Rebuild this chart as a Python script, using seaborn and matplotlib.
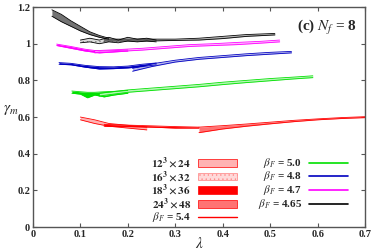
import numpy as np
import seaborn as sns
import matplotlib
matplotlib.use("Agg")
import matplotlib.pyplot as plt
from matplotlib.patches import Rectangle
from matplotlib.lines import Line2D
from matplotlib.colors import to_rgb

# ---- data ----
# beta_F = 4.65 (black)
k_lam1 = [0.04, 0.06, 0.08, 0.10, 0.12, 0.14, 0.16]
k_lo1 = [1.15, 1.12, 1.095, 1.07, 1.05, 1.035, 1.025]
k_hi1 = [1.185, 1.16, 1.125, 1.095, 1.065, 1.045, 1.03]
k_lam2 = [0.10, 0.12, 0.14, 0.16, 0.18, 0.20, 0.22, 0.24, 0.26]
k_lo2 = [1.005, 1.01, 1.0, 1.01, 1.005, 1.015, 1.01, 1.015, 1.01]
k_hi2 = [1.02, 1.03, 1.02, 1.035, 1.02, 1.035, 1.025, 1.03, 1.02]
k_lam3 = [0.15, 0.20, 0.25, 0.30, 0.35, 0.40, 0.45, 0.51]
k_lo3 = [1.015, 1.015, 1.015, 1.018, 1.02, 1.028, 1.04, 1.048]
k_hi3 = [1.025, 1.025, 1.025, 1.025, 1.03, 1.04, 1.05, 1.056]

# beta_F = 4.7 (magenta)
m_lam1 = [0.05, 0.08, 0.11, 0.14, 0.17, 0.20]
m_lo1 = [0.99, 0.975, 0.96, 0.95, 0.955, 0.96]
m_hi1 = [0.998, 0.985, 0.97, 0.96, 0.962, 0.966]
m_lam2 = [0.13, 0.18, 0.23, 0.28, 0.33, 0.38, 0.43, 0.48, 0.52]
m_lo2 = [0.95, 0.958, 0.965, 0.975, 0.985, 0.99, 0.995, 1.003, 1.01]
m_hi2 = [0.962, 0.968, 0.975, 0.985, 0.995, 1.0, 1.007, 1.013, 1.02]

# beta_F = 4.8 (blue)
b_lam1 = [0.055, 0.08, 0.11, 0.14, 0.17, 0.20, 0.23, 0.26]
b_lo1 = [0.888, 0.885, 0.872, 0.862, 0.864, 0.868, 0.875, 0.885]
b_hi1 = [0.897, 0.893, 0.882, 0.875, 0.874, 0.878, 0.888, 0.895]
b_lam2 = [0.21, 0.25, 0.30, 0.35, 0.40, 0.45, 0.50, 0.545]
b_lo2 = [0.85, 0.875, 0.90, 0.915, 0.925, 0.935, 0.943, 0.95]
b_hi2 = [0.865, 0.89, 0.91, 0.925, 0.935, 0.945, 0.953, 0.958]

# beta_F = 5.0 (green)
g_lam1 = [0.082, 0.10, 0.115, 0.13, 0.15, 0.17, 0.20]
g_lo1 = [0.73, 0.725, 0.705, 0.72, 0.71, 0.72, 0.73]
g_hi1 = [0.742, 0.738, 0.735, 0.735, 0.738, 0.74, 0.745]
g_lam2 = [0.14, 0.20, 0.25, 0.30, 0.35, 0.40, 0.45, 0.50, 0.55, 0.59]
g_lo2 = [0.715, 0.735, 0.745, 0.755, 0.765, 0.777, 0.788, 0.798, 0.808, 0.815]
g_hi2 = [0.73, 0.748, 0.758, 0.768, 0.778, 0.79, 0.80, 0.81, 0.818, 0.825]

# beta_F = 5.4 (red)
r_lam1 = [0.10, 0.13, 0.16, 0.20, 0.24]
r_lo1 = [0.585, 0.565, 0.55, 0.54, 0.53]
r_hi1 = [0.60, 0.585, 0.565, 0.555, 0.545]
r_lam2 = [0.15, 0.20, 0.25, 0.30, 0.35]
r_lo2 = [0.55, 0.548, 0.545, 0.54, 0.54]
r_hi2 = [0.56, 0.556, 0.552, 0.548, 0.545]
r_lam3 = [0.35, 0.40, 0.45, 0.50, 0.55, 0.60, 0.65, 0.70]
r_lo3 = [0.515, 0.535, 0.55, 0.563, 0.575, 0.585, 0.592, 0.597]
r_hi3 = [0.545, 0.553, 0.562, 0.572, 0.582, 0.59, 0.597, 0.602]

volumes = ["$\\mathbf{12^3\\times24}$", "$\\mathbf{16^3\\times32}$",
           "$\\mathbf{18^3\\times36}$", "$\\mathbf{24^3\\times48}$"]
betas = ["5.0", "4.8", "4.7", "4.65"]
beta_colors = ["#00e000", "#0000c0", "#ff00ff", "#000000"]
red = "#ff0000"

# (colour, lam, lo, hi, volume index)
bands = [
    ("#000000", k_lam1, k_lo1, k_hi1, 3),
    ("#000000", k_lam2, k_lo2, k_hi2, 1),
    ("#000000", k_lam3, k_lo3, k_hi3, 0),
    ("#ff00ff", m_lam1, m_lo1, m_hi1, 2),
    ("#ff00ff", m_lam2, m_lo2, m_hi2, 0),
    ("#0000c0", b_lam1, b_lo1, b_hi1, 2),
    ("#0000c0", b_lam2, b_lo2, b_hi2, 0),
    ("#00e000", g_lam1, g_lo1, g_hi1, 2),
    ("#00e000", g_lam2, g_lo2, g_hi2, 0),
    (red, r_lam1, r_lo1, r_hi1, 0),
    (red, r_lam2, r_lo2, r_hi2, 2),
    (red, r_lam3, r_lo3, r_hi3, 3),
]


def tint(c, w):
    # mix colour with white
    c = np.array(to_rgb(c))
    return tuple(c + (1 - c) * w)


def vol_style(c, iv):
    if iv == 0:
        return dict(facecolor=tint(c, 0.7), edgecolor=c, hatch=None)
    if iv == 1:
        return dict(facecolor=tint(c, 0.85), edgecolor=tint(c, 0.5), hatch="....")
    if iv == 2:
        return dict(facecolor=c, edgecolor=c, hatch=None)
    return dict(facecolor=tint(c, 0.45), edgecolor=c, hatch=None)


sns.set_style("ticks", {"xtick.direction": "in", "ytick.direction": "in"})
plt.rcParams["font.family"] = ["Liberation Serif", "DejaVu Serif"]
plt.rcParams["mathtext.fontset"] = "stix"
plt.rcParams["hatch.linewidth"] = 0.4

fig = plt.figure(figsize=(3.74, 2.52), dpi=100)
ax = fig.add_axes([0.088, 0.099, 0.888, 0.873])

for c, lam, lo, hi, iv in bands:
    st = vol_style(c, iv)
    ax.fill_between(lam, lo, hi, facecolor=st["facecolor"], edgecolor=st["edgecolor"],
                    hatch=st["hatch"], linewidth=0.0)
    sns.lineplot(x=lam, y=lo, ax=ax, color=c, lw=0.6, legend=False)
    sns.lineplot(x=lam, y=hi, ax=ax, color=c, lw=0.6, legend=False)

ax.set_xlim(0, 0.7)
ax.set_ylim(0, 1.2)
ax.set_xticks([0, 0.1, 0.2, 0.3, 0.4, 0.5, 0.6, 0.7])
ax.set_xticklabels(["0", "0.1", "0.2", "0.3", "0.4", "0.5", "0.6", "0.7"])
ax.set_yticks([0, 0.2, 0.4, 0.6, 0.8, 1.0, 1.2])
ax.set_yticklabels(["0", "0.2", "0.4", "0.6", "0.8", "1", "1.2"])
ax.tick_params(direction="in", top=True, right=True, length=3, width=0.8,
               labelsize=7.5, pad=2, color="#555555")
for t in ax.get_xticklabels() + ax.get_yticklabels():
    t.set_fontweight("bold")
for s in ax.spines.values():
    s.set_color("#555555")
    s.set_linewidth(1.0)

ax.set_xlabel("$\\lambda$", fontsize=11)
ax.xaxis.set_label_coords(0.5, -0.04)
ax.set_ylabel("$\\gamma_m$", fontsize=11, rotation=0)
ax.yaxis.set_label_coords(-0.065, 0.5)

ax.text(0.975, 0.95, "(c) $\\boldsymbol{N_f}$ = 8", transform=ax.transAxes,
        ha="right", va="top", fontsize=11, fontweight="bold")

# legend drawn by hand so labels are right-aligned
rows = [0.291, 0.23, 0.168, 0.105, 0.045]
for iv, lab in enumerate(volumes):
    ax.text(0.476, rows[iv], lab, transform=ax.transAxes, ha="right", va="center",
            fontsize=8)
    st = vol_style(red, iv)
    ax.add_patch(Rectangle((0.497, rows[iv] - 0.017), 0.117, 0.034, transform=ax.transAxes,
                           facecolor=st["facecolor"], edgecolor=st["edgecolor"],
                           hatch=st["hatch"], linewidth=0.5))
ax.text(0.476, rows[4], "$\\beta_F$ = 5.4", transform=ax.transAxes, ha="right",
        va="center", fontsize=8, fontweight="bold")
ax.add_line(Line2D([0.497, 0.614], [rows[4], rows[4]], transform=ax.transAxes,
                   color=red, lw=1.0))
for i, (b, c) in enumerate(zip(betas, beta_colors)):
    ax.text(0.81, rows[i], "$\\beta_F$ = " + b, transform=ax.transAxes, ha="right",
            va="center", fontsize=8, fontweight="bold")
    ax.add_line(Line2D([0.831, 0.949], [rows[i], rows[i]], transform=ax.transAxes,
                       color=c, lw=1.2))

fig.savefig("out.png", dpi=100)
